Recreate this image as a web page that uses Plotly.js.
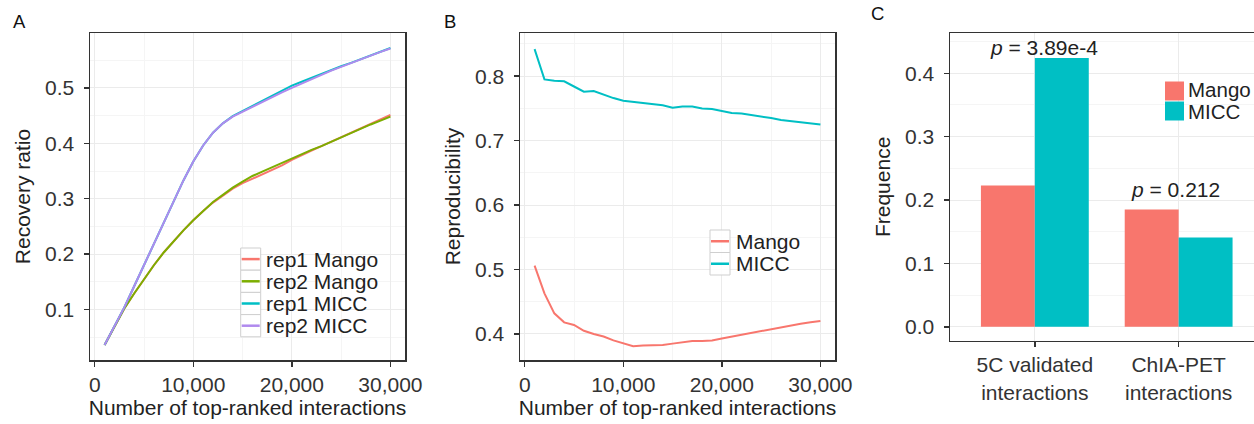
<!DOCTYPE html>
<html><head><meta charset="utf-8">
<script src="https://cdn.plot.ly/plotly-3.0.1.min.js"></script>
<style>html,body{margin:0;padding:0;background:#fff;overflow:hidden}</style>
</head><body><div id="chart" style="width:1254px;height:424px"></div>
<script>
// ---------- data ----------
const interactions = [1000,2000,3000,4000,5000,6000,7000,8000,9000,10000,11000,12000,13000,14000,15000,16000,17000,18000,19000,20000,21000,22000,23000,24000,25000,26000,27000,28000,29000,30000];

const recoveryNames = ['rep1 Mango','rep2 Mango','rep1 MICC','rep2 MICC'];
const rep1Mango = [0.036,0.069,0.102,0.129,0.155,0.180,0.203,0.224,0.243,0.261,0.278,0.293,0.306,0.318,0.328,0.336,0.343,0.351,0.360,0.370,0.379,0.387,0.395,0.403,0.411,0.419,0.427,0.435,0.443,0.451];
const rep2Mango = [0.036,0.069,0.102,0.129,0.155,0.180,0.203,0.224,0.243,0.261,0.278,0.294,0.307,0.320,0.331,0.341,0.349,0.357,0.365,0.373,0.380,0.388,0.395,0.403,0.410,0.418,0.426,0.434,0.441,0.448];
const rep1MICC  = [0.036,0.069,0.104,0.142,0.180,0.219,0.258,0.297,0.333,0.367,0.396,0.419,0.436,0.449,0.458,0.468,0.477,0.486,0.495,0.504,0.511,0.518,0.526,0.532,0.539,0.545,0.552,0.558,0.565,0.572];
const rep2MICC  = [0.036,0.069,0.104,0.142,0.180,0.219,0.258,0.297,0.333,0.367,0.396,0.419,0.436,0.448,0.457,0.466,0.475,0.484,0.492,0.500,0.508,0.516,0.524,0.531,0.538,0.545,0.552,0.558,0.565,0.571];

const reproNames = ['Mango','MICC'];
const reproMango = [0.506,0.463,0.432,0.418,0.414,0.405,0.400,0.396,0.390,0.385,0.381,0.382,0.382,0.383,0.385,0.387,0.389,0.389,0.390,0.393,0.396,0.399,0.402,0.405,0.408,0.411,0.414,0.416,0.418,0.420];
const reproMICC  = [0.842,0.795,0.793,0.792,0.784,0.776,0.777,0.771,0.766,0.762,0.760,0.758,0.757,0.755,0.751,0.753,0.753,0.750,0.749,0.746,0.743,0.742,0.740,0.737,0.735,0.732,0.730,0.728,0.727,0.725];

const freqCategories = ['5C validated<br>interactions','ChIA-PET<br>interactions'];
const freqMango = [0.223, 0.185];
const freqMICC  = [0.424, 0.141];
const pValueLabels = ['3.89e-4', '0.212'];
const pLabelY = [0.4415, 0.217];

const xTickVals = [0, 10000, 20000, 30000];

// ---------- style ----------
const W = 1254, H = 424;
const px = v => v / W;
const py = v => 1 - v / H;
const FONT = 'Liberation Sans, Arial, sans-serif';
const cRed = '#F8766D', cGreen = '#7CAE00', cCyan = '#00BFC4', cPurple = '#B08AEE';
const recColors = [cRed, cGreen, cCyan, cPurple];
const repColors = [cRed, cCyan];

function axisBase() {
  return {
    showline: true, mirror: true, linecolor: '#333', linewidth: 1.5,
    ticks: 'outside', ticklen: 5, tickwidth: 1.5, tickcolor: '#333',
    showgrid: true, gridcolor: '#EBEBEB', gridwidth: 1,
    zeroline: false, automargin: false,
    tickfont: {family: FONT, size: 21, color: '#333'}
  };
}
function titleOf(t, standoff) {
  return {text: t, font: {family: FONT, size: 21, color: '#222'}, standoff: standoff};
}

const recSeries = [rep1Mango, rep2Mango, rep1MICC, rep2MICC];
const traces = [];
recSeries.forEach((s, i) => traces.push({
  type: 'scatter', mode: 'lines', x: interactions, y: s, name: recoveryNames[i],
  line: {color: recColors[i], width: 2}, xaxis: 'x', yaxis: 'y', showlegend: false, hoverinfo: 'skip'
}));
[reproMango, reproMICC].forEach((s, i) => traces.push({
  type: 'scatter', mode: 'lines', x: interactions, y: s, name: reproNames[i],
  line: {color: repColors[i], width: 2}, xaxis: 'x2', yaxis: 'y2', showlegend: false, hoverinfo: 'skip'
}));
[freqMango, freqMICC].forEach((s, i) => traces.push({
  type: 'bar', x: freqCategories, y: s, name: reproNames[i],
  marker: {color: repColors[i], line: {width: 0}}, xaxis: 'x3', yaxis: 'y3', showlegend: false, hoverinfo: 'skip'
}));

const xA = Object.assign(axisBase(), {
  domain: [px(90), px(405)], range: [-480, 31480], anchor: 'y',
  tickvals: xTickVals, tickformat: ',d',
  minor: {dtick: 5000, tick0: 0, showgrid: true, gridcolor: '#F5F5F5', ticks: ''},
  title: titleOf('Number of top-ranked interactions', 4)
});
const yA = Object.assign(axisBase(), {
  domain: [py(360), py(33)], range: [0.009, 0.599], anchor: 'x',
  dtick: 0.1, tick0: 0, tickformat: '.1f', ticklabelstandoff: 5,
  minor: {dtick: 0.05, tick0: 0, showgrid: true, gridcolor: '#F5F5F5', ticks: ''},
  title: titleOf('Recovery ratio', 8)
});
const xB = Object.assign(axisBase(), {
  domain: [px(520), px(835)], range: [-480, 31480], anchor: 'y2',
  tickvals: xTickVals, tickformat: ',d',
  minor: {dtick: 5000, tick0: 0, showgrid: true, gridcolor: '#F5F5F5', ticks: ''},
  title: titleOf('Number of top-ranked interactions', 4)
});
const yB = Object.assign(axisBase(), {
  domain: [py(360), py(33)], range: [0.3596, 0.867], anchor: 'x2',
  dtick: 0.1, tick0: 0, tickformat: '.1f', ticklabelstandoff: 5,
  minor: {dtick: 0.05, tick0: 0, showgrid: true, gridcolor: '#F5F5F5', ticks: ''},
  title: titleOf('Reproducibility', 8)
});
const xC = Object.assign(axisBase(), {
  domain: [px(950), 1], range: [-0.59, 1.524], anchor: 'y3', type: 'category',
  title: {text: ''}
});
const yC = Object.assign(axisBase(), {
  domain: [py(340.7), py(33)], range: [-0.022, 0.4636], anchor: 'x3', mirror: false,
  dtick: 0.1, tick0: 0, tickformat: '.1f', ticklabelstandoff: 5,
  minor: {dtick: 0.05, tick0: 0, showgrid: true, gridcolor: '#F5F5F5', ticks: ''},
  title: titleOf('Frequence', 8)
});

// ---------- legends (keys drawn in paper space) ----------
const shapes = [];
const annotations = [];
function lineLegend(names, colors, left, top, keyW, rowH, textX) {
  names.forEach((n, i) => {
    const t = top + i * rowH, c = t + rowH / 2;
    shapes.push({type: 'rect', xref: 'paper', yref: 'paper', x0: px(left), x1: px(left + keyW),
      y0: py(t), y1: py(t + rowH), line: {color: '#CFCFCF', width: 1}, fillcolor: 'rgba(255,255,255,0.9)', layer: 'above'});
    shapes.push({type: 'line', xref: 'paper', yref: 'paper', x0: px(left + 1), x1: px(left + keyW - 1),
      y0: py(c), y1: py(c), line: {color: colors[i], width: 2.5}, layer: 'above'});
    annotations.push({xref: 'paper', yref: 'paper', x: px(textX), y: py(c), xanchor: 'left', yanchor: 'middle',
      text: n, showarrow: false, font: {family: FONT, size: 21, color: '#222'}});
  });
}
lineLegend(recoveryNames, recColors, 240.7, 248, 20, 22.2, 264);
lineLegend(reproNames, repColors, 710, 230, 20, 22.5, 734);
reproNames.forEach((n, i) => {
  const t = 81 + i * 20;
  shapes.push({type: 'rect', xref: 'paper', yref: 'paper', x0: px(1165), x1: px(1184),
    y0: py(t + 0.5), y1: py(t + 19.5), line: {width: 0}, fillcolor: repColors[i], layer: 'above'});
  annotations.push({xref: 'paper', yref: 'paper', x: px(1186), y: py(i === 0 ? 89.5 : 111), xanchor: 'left', yanchor: 'middle',
    text: n, showarrow: false, font: {family: FONT, size: 20.5, color: '#222'}});
});

// p-value labels
const pLabelX = [0.063, 0.98];
pValueLabels.forEach((p, i) => annotations.push({
  xref: 'x3', yref: 'y3', x: pLabelX[i], y: pLabelY[i], xanchor: 'center', yanchor: 'middle',
  text: '<i>p</i> = ' + p, showarrow: false, font: {family: FONT, size: 21, color: '#222'}
}));

// panel letters
[['A', 11, 21.5], ['B', 442, 21.5], ['C', 869, 13]].forEach(([t, x, y]) => annotations.push({
  xref: 'paper', yref: 'paper', x: px(x), y: py(y), xanchor: 'left', yanchor: 'middle',
  text: t, showarrow: false, font: {family: FONT, size: 18.5, color: '#111'}
}));

const layout = {
  width: W, height: H, margin: {l: 0, r: 0, t: 0, b: 0, pad: 0},
  paper_bgcolor: '#fff', plot_bgcolor: '#fff', showlegend: false,
  barmode: 'group', bargap: 0.25, bargroupgap: 0,
  font: {family: FONT, color: '#222'},
  xaxis: xA, yaxis: yA, xaxis2: xB, yaxis2: yB, xaxis3: xC, yaxis3: yC,
  shapes: shapes, annotations: annotations
};
Plotly.newPlot('chart', traces, layout, {staticPlot: true, displayModeBar: false});
</script></body></html>
